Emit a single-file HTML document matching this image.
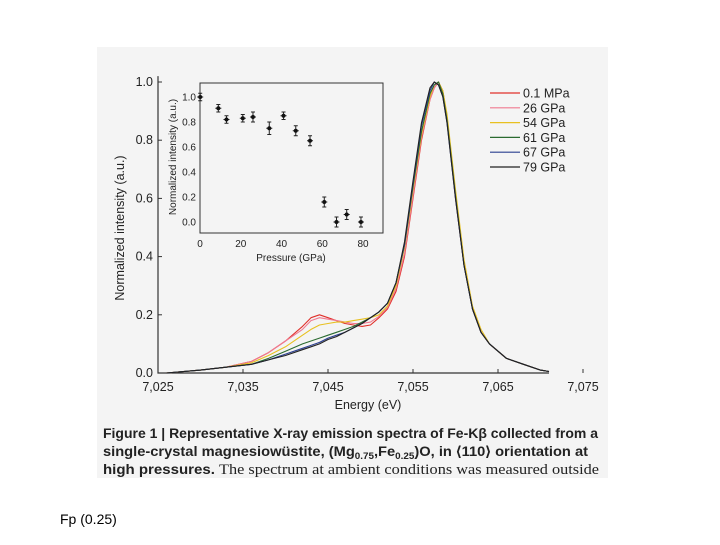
<!DOCTYPE html>
<html><head><meta charset="utf-8"><style>
body{margin:0;background:#fff;width:720px;height:540px;overflow:hidden;font-family:"Liberation Sans",sans-serif}
</style></head><body>
<svg width="720" height="540" viewBox="0 0 720 540" xmlns="http://www.w3.org/2000/svg">
<rect x="97" y="47" width="511" height="431" fill="#f4f4f4"/>
<g id="main"></g>
<g id="inset"></g>
<g font-family="Liberation Sans, sans-serif" font-weight="bold" font-size="13.4" fill="#222">
<text x="103" y="438" textLength="495" lengthAdjust="spacingAndGlyphs">Figure 1 | Representative X-ray emission spectra of Fe-Kβ collected from a</text>
<text x="103" y="456" textLength="485" lengthAdjust="spacingAndGlyphs">single-crystal magnesiowüstite, (Mg<tspan font-size="9" dy="3">0.75</tspan><tspan dy="-3">,Fe</tspan><tspan font-size="9" dy="3">0.25</tspan><tspan dy="-3">)O, in ⟨110⟩ orientation at</tspan></text>
<text x="103" y="474" textLength="496" lengthAdjust="spacingAndGlyphs">high pressures.  <tspan font-weight="normal" font-family="Liberation Serif, serif" font-size="14.5">The spectrum at ambient conditions was measured outside</tspan></text>
</g>
<text x="60" y="524" font-size="14" fill="#000">Fp (0.25)</text>
</svg>
<script>
const energies=[7026,7030,7033,7036,7038,7040,7042,7043,7044,7045,7046,7047,7048,7049,7050,7051,7052,7053,7054,7055,7056,7057,7057.5,7058,7058.5,7059,7060,7061,7062,7063,7064,7066,7068,7070,7071];
const sRed=[0,0.01,0.02,0.04,0.07,0.11,0.16,0.19,0.2,0.19,0.18,0.17,0.165,0.16,0.165,0.19,0.22,0.28,0.4,0.6,0.8,0.94,0.98,1.0,0.97,0.88,0.62,0.38,0.22,0.14,0.1,0.05,0.03,0.01,0.005];
const sPink=[0,0.01,0.02,0.04,0.07,0.11,0.15,0.18,0.19,0.185,0.18,0.175,0.17,0.17,0.175,0.195,0.225,0.29,0.41,0.61,0.81,0.94,0.98,1.0,0.96,0.87,0.6,0.37,0.22,0.14,0.1,0.05,0.03,0.01,0.005];
const sYellow=[0,0.01,0.02,0.035,0.06,0.09,0.13,0.15,0.165,0.17,0.175,0.175,0.18,0.185,0.19,0.2,0.23,0.3,0.43,0.63,0.82,0.95,0.99,1.0,0.97,0.89,0.63,0.39,0.23,0.15,0.1,0.05,0.03,0.01,0.005];
const sGreen=[0,0.01,0.02,0.03,0.05,0.075,0.1,0.11,0.12,0.13,0.14,0.15,0.16,0.175,0.19,0.21,0.24,0.31,0.44,0.64,0.83,0.96,0.99,1.0,0.96,0.87,0.61,0.37,0.22,0.14,0.1,0.05,0.03,0.01,0.005];
const sBlue=[0,0.01,0.02,0.03,0.045,0.065,0.085,0.095,0.105,0.12,0.13,0.14,0.155,0.17,0.19,0.21,0.24,0.31,0.44,0.65,0.85,0.97,1.0,0.99,0.95,0.86,0.6,0.37,0.22,0.14,0.1,0.05,0.03,0.01,0.005];
const sBlack=[0,0.01,0.02,0.03,0.045,0.06,0.08,0.09,0.1,0.115,0.125,0.14,0.155,0.17,0.19,0.21,0.24,0.31,0.45,0.66,0.86,0.98,1.0,0.99,0.95,0.86,0.6,0.37,0.22,0.14,0.1,0.05,0.03,0.01,0.005];
const seriesNames=["0.1 MPa","26 GPa","54 GPa","61 GPa","67 GPa","79 GPa"];
const xTicks=[7025,7035,7045,7055,7065,7075];
const xTickLabels=["7,025","7,035","7,045","7,055","7,065","7,075"];
const yTicks=[0,0.2,0.4,0.6,0.8,1.0];
const insetP=[0.1,9,13,21,26,34,41,47,54,61,67,72,79];
const insetV=[1.0,0.91,0.82,0.83,0.84,0.75,0.85,0.73,0.65,0.16,0.0,0.06,0.0];
const insetErr=[0.03,0.03,0.03,0.03,0.04,0.05,0.03,0.04,0.04,0.04,0.04,0.04,0.04];
const insetXTicks=[0,20,40,60,80];
const insetYTicks=[0,0.2,0.4,0.6,0.8,1.0];

const NS="http://www.w3.org/2000/svg";
function mk(p,t,a){const e=document.createElementNS(NS,t);for(const k in a)e.setAttribute(k,a[k]);p.appendChild(e);return e;}
const X=v=>158+(v-7025)*(425/50);
const Y=v=>373-v*291;
const main=document.getElementById('main');
let ax=mk(main,'path',{d:`M${X(7025)},${Y(1.02)}V${Y(0)}H${X(7071)}`,stroke:'#333',fill:'none','stroke-width':1.2});


xTicks.forEach((t,i)=>{
 const l=mk(main,'line',{x1:X(t),x2:X(t),y1:Y(0),y2:Y(0)-4,stroke:'#333'});
 
 
 const tx=mk(main,'text',{x:X(t),y:391,'text-anchor':'middle','font-size':12.5,fill:'#222'});
 tx.textContent=xTickLabels[i];
 
 
});
yTicks.forEach(t=>{
 const l=mk(main,'line',{x1:X(7025),x2:X(7025)+4,y1:Y(t),y2:Y(t),stroke:'#333'});
 
 
 const tx=mk(main,'text',{x:153,y:Y(t)+4,'text-anchor':'end','font-size':12.5,fill:'#222'});
 tx.textContent=t.toFixed(1);
 
 
});
let xt=mk(main,'text',{x:368,y:409,'text-anchor':'middle','font-size':12.5,fill:'#222'});
xt.textContent='Energy (eV)';


let yt=mk(main,'text',{x:124,y:228,'text-anchor':'middle','font-size':12.5,fill:'#222',transform:'rotate(-90 124 228)'});
yt.textContent='Normalized intensity (a.u.)';


const series=[sRed,sPink,sYellow,sGreen,sBlue,sBlack];
const colors=['#e0302a','#f07a90','#e8c020','#2a6a30','#2a3e90','#222'];
series.forEach((s,i)=>{
 const d=s.map((v,j)=>(j?'L':'M')+X(energies[j]).toFixed(1)+','+Y(v).toFixed(1)).join('');
 const p=mk(main,'path',{d:d,stroke:colors[i],fill:'none','stroke-width':1.1,'stroke-linejoin':'round'});
 
 
 const ly=93+i*14.8;
 const ll=mk(main,'line',{x1:490,x2:520,y1:ly,y2:ly,stroke:colors[i],'stroke-width':1.2});
 
 
 const lt=mk(main,'text',{x:523,y:ly+4.5,'font-size':12.5,fill:'#222'});
 lt.textContent=seriesNames[i];
 
 
});
const inset=document.getElementById('inset');
const IX=v=>200+v*(163/80);
const IY=v=>222-v*125;
let box=mk(inset,'rect',{x:200,y:83,width:183,height:150,fill:'#f4f4f4',stroke:'#333','stroke-width':1});


insetXTicks.forEach(t=>{
 const tx=mk(inset,'text',{x:IX(t),y:247,'text-anchor':'middle','font-size':10,fill:'#222'});
 tx.textContent=t;
 
 
});
insetYTicks.forEach(t=>{
 const tx=mk(inset,'text',{x:196,y:IY(t)+3.5,'text-anchor':'end','font-size':10,fill:'#222'});
 tx.textContent=t.toFixed(1);
 
 
});
let ixt=mk(inset,'text',{x:291,y:261,'text-anchor':'middle','font-size':10,fill:'#222'});
ixt.textContent='Pressure (GPa)';


let iyt=mk(inset,'text',{x:176,y:157,'text-anchor':'middle','font-size':10,fill:'#222',transform:'rotate(-90 176 157)'});
iyt.textContent='Normalized intensity (a.u.)';


insetP.forEach((p,i)=>{
 const cx=IX(p),cy=IY(insetV[i]),e=insetErr[i]*125;
 const g=mk(inset,'path',{d:`M${cx},${cy-e}V${cy+e}M${cx-2},${cy-e}H${cx+2}M${cx-2},${cy+e}H${cx+2}M${cx-3},${cy}H${cx+3}`,stroke:'#222','stroke-width':1});
 
 
 const c=mk(inset,'circle',{cx:cx,cy:cy,r:2,fill:'#111'});
 
 
});
</script>
</body></html>
